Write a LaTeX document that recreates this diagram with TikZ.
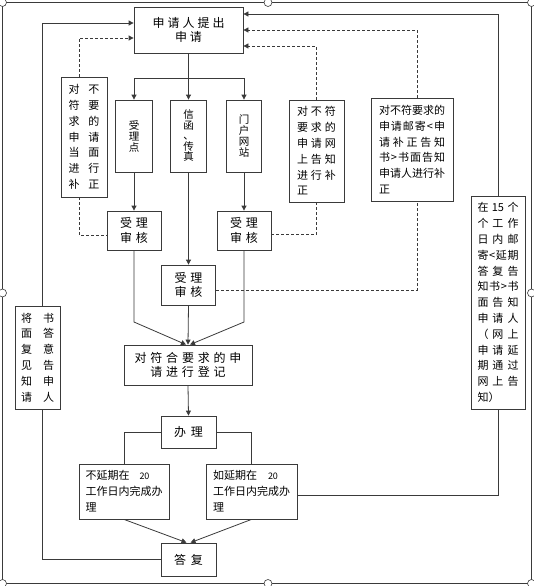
\documentclass[tikz,border=0pt]{standalone}
\usepackage{fontspec}
\setmainfont{Noto Sans CJK SC}
\usetikzlibrary{arrows.meta}
\definecolor{lc}{HTML}{3A3A3A}
\makeatletter
\newcommand\spc[2]{\@tfor\sk@x:=#2\do{\sk@x\hspace{#1}}\unskip}
\newcommand\jus[2]{\makebox[#1][s]{\@tfor\sk@x:=#2\do{\sk@x\hfill}\unskip}}
\makeatother
\tikzset{
  box/.style={draw=lc, line width=0.8pt, inner sep=0pt, fill=white, text=black},
  ln/.style={draw=lc, line width=0.8pt},
  arr/.style={-{Triangle[length=5pt,width=5pt]}},
  dsh/.style={dash pattern=on 3pt off 2pt},
  big/.style={font=\fontsize{12}{14.5}\selectfont, align=center},
  sml/.style={font=\fontsize{11}{15.8}\selectfont},
  handle/.style={draw=lc, line width=0.6pt, fill=white},
}
\begin{document}
\begin{tikzpicture}[x=1pt,y=-1pt]
\useasboundingbox (0,0) rectangle (534,586);
% outer frame
\draw[lc, line width=0.8pt] (2.5,2.5) rectangle (531.5,583.5);
\foreach \hx/\hy in {2.5/2.5,268/2.5,531.5/2.5,2.5/293,531.5/293,2.5/583.5,268/583.5,531.5/583.5}
  \draw[handle] (\hx,\hy) circle (4pt);

% nodes
\node[box,big,minimum width=109pt,minimum height=46pt] (top) at (188.5,30) {\spc{3pt}{申请人提出}\\\spc{3pt}{申请}};
\node[box,sml,align=center,minimum width=46pt,minimum height=120pt] (lbox) at (84,137)
  {\spc{9pt}{对不}\\\spc{9pt}{符要}\\\spc{9pt}{求的}\\\spc{9pt}{申请}\\\spc{9pt}{当面}\\\spc{9pt}{进行}\\\spc{9pt}{补正}};
\node[box,align=center,font=\fontsize{10.5}{11}\selectfont,minimum width=37pt,minimum height=72pt] (v1) at (134,136) {受\\理\\点};
\node[box,align=center,font=\fontsize{10.5}{10.5}\selectfont,minimum width=36pt,minimum height=72pt] (v2) at (188.5,136) {信\\函\\、\\传\\真};
\node[box,align=center,font=\fontsize{10.5}{11}\selectfont,minimum width=35pt,minimum height=72pt] (v3) at (244,136) {门\\户\\网\\站};
\node[box,big,minimum width=54pt,minimum height=39pt] (a1) at (134,230.5) {\spc{4pt}{受理}\\\spc{4pt}{审核}};
\node[box,big,minimum width=54pt,minimum height=39pt] (a3) at (244,230.5) {\spc{4pt}{受理}\\\spc{4pt}{审核}};
\node[box,big,minimum width=54pt,minimum height=40pt] (a2) at (188.5,285) {\spc{4pt}{受理}\\\spc{4pt}{审核}};
\node[box,sml,align=left,minimum width=55pt,minimum height=102pt] (note2) at (316.5,151)
  {\spc{3pt}{对不符}\\\spc{3pt}{要求的}\\\spc{3pt}{申请网}\\\spc{3pt}{上告知}\\\spc{3pt}{进行补}\\正};
\node[box,sml,align=left,minimum width=82pt,minimum height=103pt] (note3) at (412,149.5)
  {\jus{66pt}{对不符要求的}\\\jus{66pt}{申请邮寄<申}\\\jus{66pt}{请补正告知}\\\jus{66pt}{书>书面告知}\\\jus{66pt}{申请人进行补}\\正};
\node[box,sml,align=left,minimum width=54pt,minimum height=213pt] (note4) at (498,302.5)
  {\jus{41pt}{在{15}个}\\\jus{41pt}{个工作}\\\jus{41pt}{日内邮}\\\jus{41pt}{寄<延期}\\\jus{41pt}{答复告}\\\jus{41pt}{知书>书}\\\jus{41pt}{面告知}\\\jus{41pt}{申请人}\\\jus{41pt}{（网上}\\\jus{41pt}{申请延}\\\jus{41pt}{期通过}\\\jus{41pt}{网上告}\\知）};
\node[box,sml,align=center,minimum width=45pt,minimum height=103pt] (note5) at (37.5,357.5)
  {\spc{11pt}{将书}\\\spc{11pt}{面答}\\\spc{11pt}{复意}\\\spc{11pt}{见告}\\\spc{11pt}{知申}\\\spc{11pt}{请人}};
\node[box,big,font=\fontsize{12}{14}\selectfont,minimum width=128pt,minimum height=40pt] (reg) at (188,365)
  {\spc{3.8pt}{对符合要求的申}\\\spc{3.8pt}{请进行登记}};
\node[box,big,minimum width=55pt,minimum height=32pt] (ban) at (188.5,432) {\spc{5pt}{办理}};
\node[box,font=\fontsize{11}{16}\selectfont,align=left,minimum width=90pt,minimum height=55pt] (n1) at (124,491.5)
  {不延期在\hspace{10pt}{\fontsize{9}{9}\selectfont 20}\\工作日内完成办\\理};
\node[box,font=\fontsize{11}{16}\selectfont,align=left,minimum width=91pt,minimum height=55pt] (n2) at (251.5,491.5)
  {如延期在\hspace{11pt}{\fontsize{9}{9}\selectfont 20}\\工作日内完成办\\理};
\node[box,big,minimum width=55pt,minimum height=33pt] (ans) at (188.5,559.5) {\spc{5pt}{答复}};

% helper coordinates
\coordinate (L1) at (42,409);
\coordinate (L2) at (42,306);
\coordinate (D1) at (79,77);
\coordinate (D2) at (79,197);
\coordinate (jL) at (134,78);
\coordinate (jR) at (244,78);
\coordinate (N3b) at (417,201);
\coordinate (N3t) at (417,98);
\coordinate (k1) at (134,322);
\coordinate (k3) at (244,322);

% connectors
\draw[ln] (ans.west) -| (L1);
\draw[ln,arr] (L2) |- ([yshift=7pt]top.west);
\draw[ln,dsh,arr] (D1) |- ([yshift=-8pt]top.west);
\draw[ln,dsh] (D2) |- ([yshift=-4.5pt]a1.west);
\draw[ln,arr] (top.south) -- (v2.north);
\draw[ln] (jL) -- (jR);
\draw[ln,arr] (jL) -- (v1.north);
\draw[ln,arr] (jR) -- (v3.north);
\draw[ln,arr] (v1.south) -- (a1.north);
\draw[ln,arr] (v2.south) -- (a2.north);
\draw[ln,arr] (v3.south) -- (a3.north);
\draw[ln,dsh] ([yshift=-4pt]a3.east) -| (note2.south);
\draw[ln,dsh,arr] (note2.north) |- ([yshift=-16pt]top.east);
\draw[ln,dsh] ([yshift=-5pt]a2.east) -| (N3b);
\draw[ln,dsh,arr] (N3t) |- (top.east);
\draw[ln,arr] (note4.north) |- ([yshift=16pt]top.east);
\draw[ln] (note4.south) |- ([yshift=-3.5pt]n2.east);
\draw[ln,arr] (a1.south) -- (k1) -- ([xshift=-2pt]reg.north);
\draw[ln,arr] (a3.south) -- (k3) -- ([xshift=2pt]reg.north);
\draw[ln,arr] (a2.south) -- (reg.north);
\draw[ln,arr] (reg.south) -- (ban.north);
\draw[ln] (ban.west) -| (n1.north);
\draw[ln] (ban.east) -| (n2.north);
\draw[ln,arr] (n1.south) -- ([xshift=-2pt]ans.north);
\draw[ln,arr] (n2.south) -- ([xshift=2pt]ans.north);
\end{tikzpicture}
\end{document}
